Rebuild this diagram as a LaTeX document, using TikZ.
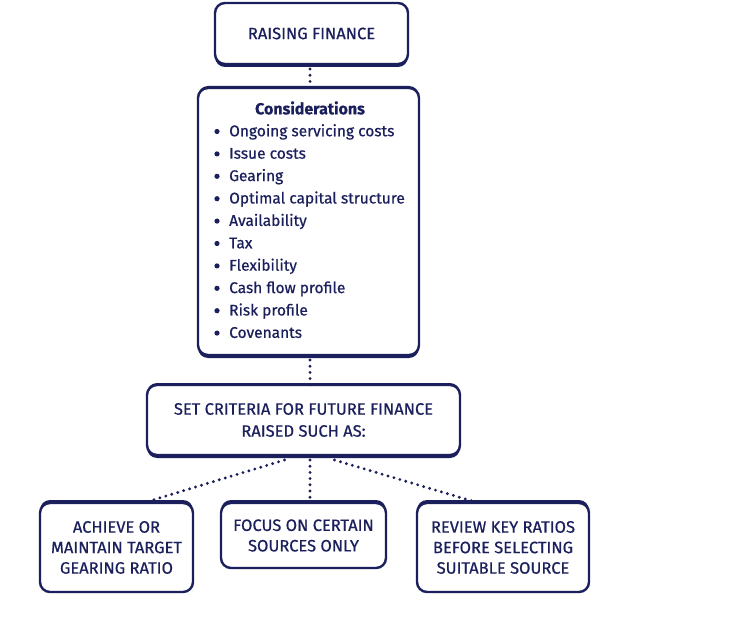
\documentclass[tikz,border=0pt]{standalone}
\usepackage{fontspec}
\setmainfont{Fira Sans}[FakeBold=0.6]
\usetikzlibrary{backgrounds}
\definecolor{navy}{HTML}{1B1F5C}
\tikzset{
  box/.style={draw=navy, line width=2.4pt, rounded corners=10pt, fill=white, inner sep=0pt, outer sep=0pt, align=center, text=navy, font=\fontsize{16.5}{21}\selectfont},
  conn/.style={navy, line width=3.2pt, line cap=round, dash pattern=on 0pt off 6.2pt},
  shad/.style={fill=navy, rounded corners=10pt},
  lst/.style={text=navy, align=left, anchor=north west, inner sep=0pt, font=\fontsize{15.5}{22.4}\selectfont},
  bulletdot/.style={fill=navy}
}
\begin{document}
\begin{tikzpicture}[x=1pt,y=-1pt]
\useasboundingbox (0,0) rectangle (744,628);
\node[box, minimum width=193pt, minimum height=61pt] (top) at (311.5,33.5) {RAISING FINANCE};
\node[box, minimum width=221pt, minimum height=267pt] (cons) at (308.5,221.5) {};
\node[text=navy, inner sep=0pt, font=\fontsize{16}{18}\selectfont\bfseries] (ctitle) at (310,108) {Considerations};
\node[lst] (clist) at (229,124) {Ongoing servicing costs\\ Issue costs\\ Gearing\\ Optimal capital structure\\ Availability\\ Tax\\ Flexibility\\ Cash flow profile\\ Risk profile\\ Covenants};
\foreach \i in {0,...,9} \fill[bulletdot] (217,{131.5+22.4*\i}) circle (2.6pt);
\node[box, minimum width=313pt, minimum height=70pt, font=\fontsize{16.5}{22}\selectfont] (crit) at (303.5,420) {SET CRITERIA FOR FUTURE FINANCE\\RAISED SUCH AS:};
\node[box, minimum width=153pt, minimum height=89pt, font=\fontsize{16.5}{20.5}\selectfont] (left) at (116.5,547.5) {ACHIEVE OR\\MAINTAIN TARGET\\GEARING RATIO};
\node[box, minimum width=165pt, minimum height=65pt, font=\fontsize{16.5}{20.5}\selectfont] (mid) at (303.5,535.5) {FOCUS ON CERTAIN\\SOURCES ONLY};
\node[box, minimum width=172pt, minimum height=89pt, font=\fontsize{16.5}{20.5}\selectfont] (right) at (503,547.5) {REVIEW KEY RATIOS\\BEFORE SELECTING\\SUITABLE SOURCE};
\begin{scope}[on background layer]
\fill[shad] (top.north west) rectangle ([yshift=-3pt]top.south east);
\fill[shad] ([yshift=2pt]cons.north west) rectangle ([yshift=-3pt]cons.south east);
\fill[shad] ([yshift=2pt]crit.north west) rectangle ([yshift=-3pt]crit.south east);
\fill[shad] ([yshift=3pt]left.north west) rectangle (left.south east);
\fill[shad] ([yshift=3pt]mid.north west) rectangle (mid.south east);
\fill[shad] ([yshift=3pt]right.north west) rectangle (right.south east);
\end{scope}
\coordinate (t1) at ([xshift=-1.5pt,yshift=-5pt]top.south);
\coordinate (k1) at ([xshift=1.5pt,yshift=-5pt]cons.south);
\coordinate (m1) at ([xshift=6.5pt,yshift=-5pt]crit.south);
\coordinate (c1) at ([xshift=-19pt,yshift=-5pt]crit.south);
\coordinate (c3) at ([xshift=31pt,yshift=-5pt]crit.south);
\coordinate (l1) at ([xshift=33pt,yshift=2pt]left.north);
\coordinate (r1) at ([xshift=-31pt,yshift=2pt]right.north);
\draw[conn] (t1) -- (t1 |- cons.north);
\draw[conn] (k1) -- (k1 |- crit.north);
\draw[conn] (c1) -- (l1);
\draw[conn] (m1) -- (m1 |- mid.north);
\draw[conn] (c3) -- (r1);
\end{tikzpicture}
\end{document}
